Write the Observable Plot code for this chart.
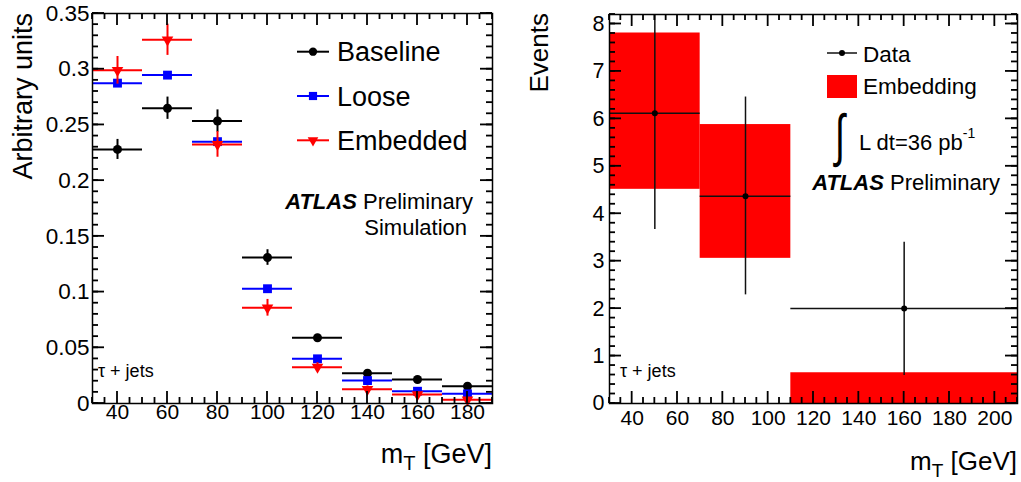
<!DOCTYPE html>
<html><head><meta charset="utf-8">
<script src="https://cdn.jsdelivr.net/npm/d3@7"></script>
<script src="https://cdn.jsdelivr.net/npm/@observablehq/plot@0.6"></script>
<style>
body{margin:0;background:#fff;}
#wrap{position:relative;width:1021px;height:482px;display:flex;}
svg{font-family:"Liberation Sans",Arial,Helvetica,sans-serif;overflow:visible;}
</style></head><body><div id="wrap"></div>
<script>
// ---------- Left panel data ----------
const massBins = [40, 60, 80, 100, 120, 140, 160, 180];
const binHalfWidth = 10;
const baseline    = [0.228, 0.265, 0.2535, 0.131, 0.059, 0.0272, 0.0215, 0.0155];
const baselineErr = [0.009, 0.010, 0.010, 0.007, 0.003, 0.002, 0.002, 0.002];
const loose       = [0.2875, 0.2947, 0.235, 0.103, 0.0401, 0.0206, 0.011, 0.0087];
const looseErr    = [0.003, 0.003, 0.003, 0.002, 0.002, 0.0015, 0.001, 0.001];
const embedded    = [0.299, 0.3264, 0.2325, 0.0859, 0.0326, 0.0128, 0.0081, 0.0033];
const embeddedErr = [0.0124, 0.014, 0.0115, 0.0075, 0.004, 0.003, 0.002, 0.002];
const seriesNames = ["Baseline", "Loose", "Embedded"];
const leftXTicks = [40, 60, 80, 100, 120, 140, 160, 180];
const leftYTicks = [0, 0.05, 0.1, 0.15, 0.2, 0.25, 0.3, 0.35];
const leftYTickLabels = ["0", "0.05", "0.1", "0.15", "0.2", "0.25", "0.3", "0.35"];

// ---------- Right panel data ----------
const binLow  = [30, 70, 110];
const binHigh = [70, 110, 210];
const dataX        = [50, 90, 160];
const dataCounts   = [6.12, 4.37, 2.0];
const dataErrLow   = [2.45, 2.08, 1.41];
const dataErrHigh  = [3.6, 2.09, 1.40];
const embedLower   = [4.515, 3.06, 0];
const embedUpper   = [7.81, 5.88, 0.648];
const rightXTicks = [40, 60, 80, 100, 120, 140, 160, 180, 200];
const rightYTicks = [0, 1, 2, 3, 4, 5, 6, 7, 8];

// ---------- helpers ----------
const FONT = '"Liberation Sans", Arial, Helvetica, sans-serif';
const triangleDown = {
  draw(ctx, size) {
    const y = Math.sqrt(size / (Math.sqrt(3) * 3));
    const s = Math.sqrt(3) * y;
    ctx.moveTo(0, 2 * y);
    ctx.lineTo(s, -y);
    ctx.lineTo(-s, -y);
    ctx.closePath();
  }
};
// inward ROOT-style ticks on all four sides, drawn as thin filled rects
// through the same linear mapping as the plot's x/y scales
function addTicks(svg, dims, xdom, ydom, xMajor, xMinor, yMajor, yMinor, major, minor) {
  const fx = d3.scaleLinear().domain(xdom).range([dims.ml, dims.w - dims.mr]);
  const fy = d3.scaleLinear().domain(ydom).range([dims.h - dims.mb, dims.mt]);
  const x0 = fx(xdom[0]), x1 = fx(xdom[1]), y0 = fy(ydom[0]), y1 = fy(ydom[1]);
  const w = 1.8;
  const g = d3.select(svg).append("g").attr("fill", "#000000").attr("stroke", "none");
  for (const [vals, len] of [[xMajor, major], [xMinor, minor]]) {
    for (const v of vals) {
      const px = fx(v);
      g.append("rect").attr("x", px - w / 2).attr("y", y0 - len).attr("width", w).attr("height", len);
      g.append("rect").attr("x", px - w / 2).attr("y", y1).attr("width", w).attr("height", len);
    }
  }
  for (const [vals, len] of [[yMajor, major], [yMinor, minor]]) {
    for (const v of vals) {
      const py = fy(v);
      g.append("rect").attr("x", x0).attr("y", py - w / 2).attr("width", len).attr("height", w);
      g.append("rect").attr("x", x1 - len).attr("y", py - w / 2).attr("width", len).attr("height", w);
    }
  }
}

// ---------- Left plot ----------
const series = {
  Baseline: {vals: baseline, errs: baselineErr, color: "#000000", symbol: "circle", r: 4.5},
  Loose:    {vals: loose, errs: looseErr, color: "#0000ff", symbol: "square", r: 5},
  Embedded: {vals: embedded, errs: embeddedErr, color: "#ff0000", symbol: triangleDown, r: 4.3}
};
const L = {w: 510, h: 482, ml: 92, mr: 18, mt: 13, mb: 79};
const LX = [30, 190], LY = [0, 0.35];
const leftMarks = [];
for (const name of seriesNames) {
  const s = series[name];
  const rows = massBins.map((m, i) => ({x: m, y: s.vals[i], e: s.errs[i]}));
  leftMarks.push(
    Plot.ruleY(rows, {y: "y", x1: d => d.x - binHalfWidth, x2: d => d.x + binHalfWidth, stroke: s.color, strokeWidth: 2}),
    Plot.ruleX(rows, {x: "x", y1: d => d.y - d.e, y2: d => d.y + d.e, stroke: s.color, strokeWidth: 2}),
    Plot.dot(rows, {x: "x", y: "y", r: s.r, symbol: s.symbol, fill: s.color, stroke: "none"})
  );
}
const leftXMinor = d3.range(30, 191, 5).filter(v => !leftXTicks.includes(v));
const leftYMinor = d3.range(0, 36).map(i => i / 100);
const left = Plot.plot({
  width: L.w, height: L.h, marginLeft: L.ml, marginRight: L.mr, marginTop: L.mt, marginBottom: L.mb,
  style: {fontFamily: FONT, background: "transparent", color: "black"},
  x: {domain: LX},
  y: {domain: LY},
  marks: [
    ...leftMarks,
    Plot.frame({stroke: "black", strokeWidth: 1.5}),
    Plot.axisX(leftXTicks, {anchor: "bottom", tickSize: 0, tickPadding: 1, fontSize: 21, label: null}),
    Plot.axisY(leftYTicks, {anchor: "left", tickSize: 0, tickPadding: 3, fontSize: 22.5, label: null,
      tickFormat: d => leftYTickLabels[leftYTicks.indexOf(d)]})
  ]
});

// ---------- Right plot ----------
const R = {w: 511, h: 482, ml: 99, mr: 4, mt: 14, mb: 79};
const RX = [30, 210], RY = [0, 8.2];
const embRows = binLow.map((lo, i) => ({x1: lo, x2: binHigh[i], y1: embedLower[i], y2: embedUpper[i]}));
const dataRows = dataX.map((x, i) => ({x, lo: binLow[i], hi: binHigh[i], y: dataCounts[i], el: dataErrLow[i], eh: dataErrHigh[i]}));
const rightXMinor = d3.range(30, 211, 5).filter(v => !rightXTicks.includes(v));
const rightYMinor = d3.range(0, 42).map(i => i / 5);
const right = Plot.plot({
  width: R.w, height: R.h, marginLeft: R.ml, marginRight: R.mr, marginTop: R.mt, marginBottom: R.mb,
  style: {fontFamily: FONT, background: "transparent", color: "black"},
  x: {domain: RX},
  y: {domain: RY},
  marks: [
    Plot.rect(embRows, {x1: "x1", x2: "x2", y1: "y1", y2: "y2", fill: "#ff0000"}),
    Plot.ruleY(dataRows, {y: "y", x1: "lo", x2: "hi", stroke: "#111", strokeWidth: 1.5, clip: true}),
    Plot.ruleX(dataRows, {x: "x", y1: d => d.y - d.el, y2: d => d.y + d.eh, stroke: "#111", strokeWidth: 1.5, clip: true}),
    Plot.dot(dataRows, {x: "x", y: "y", r: 3, fill: "black"}),
    Plot.frame({stroke: "black", strokeWidth: 1.5}),
    Plot.axisX(rightXTicks, {anchor: "bottom", tickSize: 0, tickPadding: 7, fontSize: 21, label: null}),
    Plot.axisY(rightYTicks, {anchor: "left", tickSize: 0, tickPadding: 5, fontSize: 21.5, label: null})
  ]
});

const wrap = document.getElementById("wrap");
wrap.appendChild(left);
wrap.appendChild(right);

addTicks(left, L, LX, LY, leftXTicks, leftXMinor, leftYTicks, leftYMinor, 12, 6);
addTicks(right, R, RX, RY, rightXTicks, rightXMinor, rightYTicks, rightYMinor, 12, 6);

// ---------- Left annotations ----------
const gl = d3.select(left).append("g").attr("font-family", FONT).attr("fill", "black").attr("text-anchor", "start");
gl.append("text").attr("transform", "translate(32,13) rotate(-90)").attr("text-anchor", "end")
  .attr("font-size", 27).text("Arbitrary units");
{
  const t = gl.append("text").attr("x", 492).attr("y", 463).attr("text-anchor", "end").attr("font-size", 27);
  t.append("tspan").text("m");
  t.append("tspan").attr("font-size", 20).attr("dy", 7).text("T");
  t.append("tspan").attr("dy", -7).text(" [GeV]");
}
const legY = [51.7, 96, 140.3];
seriesNames.forEach((name, i) => {
  const s = series[name];
  const y = legY[i];
  gl.append("line").attr("x1", 297).attr("x2", 329).attr("y1", y).attr("y2", y).attr("stroke", s.color).attr("stroke-width", 2);
  const sym = d3.symbol().type(typeof s.symbol === "string" ? (s.symbol === "circle" ? d3.symbolCircle : d3.symbolSquare) : s.symbol)
    .size(Math.PI * s.r * s.r * 0.85);
  gl.append("path").attr("d", sym()).attr("transform", `translate(313,${y})`).attr("fill", s.color);
  gl.append("text").attr("x", 337).attr("y", y + 9.6).attr("font-size", 27).text(name);
});
{
  const t = gl.append("text").attr("x", 473).attr("y", 209).attr("text-anchor", "end").attr("font-size", 22);
  t.append("tspan").attr("font-weight", "bold").attr("font-style", "italic").text("ATLAS");
  t.append("tspan").text(" Preliminary");
  gl.append("text").attr("x", 467).attr("y", 235).attr("text-anchor", "end").attr("font-size", 22).text("Simulation");
  gl.append("text").attr("x", 98).attr("y", 377).attr("font-size", 18).text("τ + jets");
}

// ---------- Right annotations ----------
const gr = d3.select(right).append("g").attr("font-family", FONT).attr("fill", "black").attr("text-anchor", "start");
gr.append("text").attr("transform", "translate(38,13) rotate(-90)").attr("text-anchor", "end")
  .attr("font-size", 26).text("Events");
{
  const t = gr.append("text").attr("x", 507).attr("y", 470).attr("text-anchor", "end").attr("font-size", 26);
  t.append("tspan").text("m");
  t.append("tspan").attr("font-size", 19).attr("dy", 7).text("T");
  t.append("tspan").attr("dy", -7).text(" [GeV]");
}
gr.append("line").attr("x1", 317).attr("x2", 347).attr("y1", 53).attr("y2", 53).attr("stroke", "#111").attr("stroke-width", 1.5);
gr.append("circle").attr("cx", 332).attr("cy", 53).attr("r", 3).attr("fill", "black");
gr.append("text").attr("x", 353).attr("y", 61.5).attr("font-size", 22.5).text("Data");
gr.append("rect").attr("x", 317).attr("y", 75).attr("width", 30).attr("height", 23).attr("fill", "#ff0000");
gr.append("text").attr("x", 353).attr("y", 93.5).attr("font-size", 22.5).text("Embedding");
gr.append("text").attr("transform", "translate(325,155) scale(0.8,1.25)").attr("font-size", 46).text("∫");
{
  const t = gr.append("text").attr("x", 349).attr("y", 150).attr("font-size", 22);
  t.append("tspan").text("L dt=36 pb");
  t.append("tspan").attr("font-size", 14).attr("dy", -12).text("-1");
}
{
  const t = gr.append("text").attr("x", 490).attr("y", 190).attr("text-anchor", "end").attr("font-size", 22);
  t.append("tspan").attr("font-weight", "bold").attr("font-style", "italic").text("ATLAS");
  t.append("tspan").text(" Preliminary");
}
gr.append("text").attr("x", 110).attr("y", 377).attr("font-size", 18).text("τ + jets");
</script>
</body></html>
